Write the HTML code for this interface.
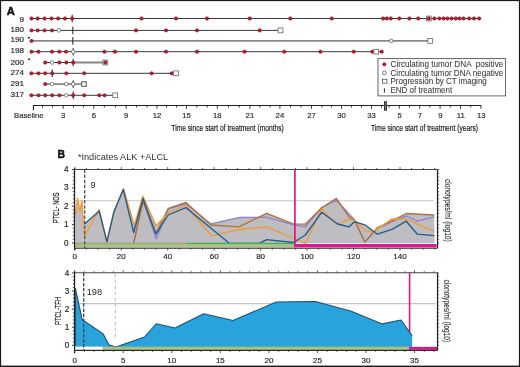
<!DOCTYPE html><html><head><meta charset="utf-8"><style>html,body{margin:0;padding:0;background:#fff;}svg{display:block;will-change:transform;}text{font-family:"Liberation Sans", sans-serif;}</style></head><body>
<svg width="520" height="367" viewBox="0 0 520 367">
<defs><linearGradient id="gband" x1="0" y1="0" x2="0" y2="1"><stop offset="0" stop-color="#9db97f"/><stop offset="1" stop-color="#b1cb92"/></linearGradient><linearGradient id="gband2" x1="0" y1="0" x2="0" y2="1"><stop offset="0" stop-color="#a3b87c"/><stop offset="1" stop-color="#b2ca90"/></linearGradient></defs>
<rect x="0" y="0" width="520" height="367" fill="#fff"/>
<text x="6.7" y="14.8" font-size="11.2" font-weight="bold" fill="#111" stroke="#111" stroke-width="0.5">A</text>
<text x="24" y="21.60" font-size="8.1" fill="#333" stroke="#333" stroke-width="0.22" text-anchor="end">9</text>
<line x1="31.5" y1="18.5" x2="479.2" y2="18.5" stroke="#3a3a3a" stroke-width="1"/>
<line x1="72.2" y1="14.7" x2="72.2" y2="22.3" stroke="#222" stroke-width="1"/>
<circle cx="31.5" cy="18.5" r="1.65" fill="#d8142a" stroke="#5a0a12" stroke-width="0.55"/>
<circle cx="37.7" cy="18.5" r="1.65" fill="#d8142a" stroke="#5a0a12" stroke-width="0.55"/>
<circle cx="44.6" cy="18.5" r="1.65" fill="#d8142a" stroke="#5a0a12" stroke-width="0.55"/>
<circle cx="51.5" cy="18.5" r="1.65" fill="#d8142a" stroke="#5a0a12" stroke-width="0.55"/>
<circle cx="58.1" cy="18.5" r="1.65" fill="#d8142a" stroke="#5a0a12" stroke-width="0.55"/>
<circle cx="65" cy="18.5" r="1.65" fill="#d8142a" stroke="#5a0a12" stroke-width="0.55"/>
<circle cx="72.2" cy="18.5" r="1.65" fill="#d8142a" stroke="#5a0a12" stroke-width="0.55"/>
<circle cx="141.5" cy="18.5" r="1.65" fill="#d8142a" stroke="#5a0a12" stroke-width="0.55"/>
<circle cx="176" cy="18.5" r="1.65" fill="#d8142a" stroke="#5a0a12" stroke-width="0.55"/>
<circle cx="207" cy="18.5" r="1.65" fill="#d8142a" stroke="#5a0a12" stroke-width="0.55"/>
<circle cx="249.75" cy="18.5" r="1.65" fill="#d8142a" stroke="#5a0a12" stroke-width="0.55"/>
<circle cx="290.25" cy="18.5" r="1.65" fill="#d8142a" stroke="#5a0a12" stroke-width="0.55"/>
<circle cx="331.75" cy="18.5" r="1.65" fill="#d8142a" stroke="#5a0a12" stroke-width="0.55"/>
<circle cx="383.1" cy="18.5" r="1.65" fill="#d8142a" stroke="#5a0a12" stroke-width="0.55"/>
<circle cx="386.8" cy="18.5" r="1.65" fill="#d8142a" stroke="#5a0a12" stroke-width="0.55"/>
<circle cx="390.9" cy="18.5" r="1.65" fill="#d8142a" stroke="#5a0a12" stroke-width="0.55"/>
<circle cx="399.3" cy="18.5" r="1.65" fill="#d8142a" stroke="#5a0a12" stroke-width="0.55"/>
<circle cx="409.4" cy="18.5" r="1.65" fill="#d8142a" stroke="#5a0a12" stroke-width="0.55"/>
<circle cx="418.2" cy="18.5" r="1.65" fill="#d8142a" stroke="#5a0a12" stroke-width="0.55"/>
<circle cx="434.3" cy="18.5" r="1.65" fill="#d8142a" stroke="#5a0a12" stroke-width="0.55"/>
<circle cx="439.4" cy="18.5" r="1.65" fill="#d8142a" stroke="#5a0a12" stroke-width="0.55"/>
<circle cx="443.7" cy="18.5" r="1.65" fill="#d8142a" stroke="#5a0a12" stroke-width="0.55"/>
<circle cx="447.5" cy="18.5" r="1.65" fill="#d8142a" stroke="#5a0a12" stroke-width="0.55"/>
<circle cx="451.5" cy="18.5" r="1.65" fill="#d8142a" stroke="#5a0a12" stroke-width="0.55"/>
<circle cx="455.8" cy="18.5" r="1.65" fill="#d8142a" stroke="#5a0a12" stroke-width="0.55"/>
<circle cx="459.6" cy="18.5" r="1.65" fill="#d8142a" stroke="#5a0a12" stroke-width="0.55"/>
<circle cx="463.5" cy="18.5" r="1.65" fill="#d8142a" stroke="#5a0a12" stroke-width="0.55"/>
<circle cx="469.2" cy="18.5" r="1.65" fill="#d8142a" stroke="#5a0a12" stroke-width="0.55"/>
<circle cx="474" cy="18.5" r="1.65" fill="#d8142a" stroke="#5a0a12" stroke-width="0.55"/>
<circle cx="479.2" cy="18.5" r="1.65" fill="#d8142a" stroke="#5a0a12" stroke-width="0.55"/>
<rect x="426.40000000000003" y="16.1" width="4.8" height="4.8" fill="#fff" stroke="#666" stroke-width="0.8"/><circle cx="428.8" cy="18.5" r="1.65" fill="#d8142a" stroke="#5a0a12" stroke-width="0.55"/>
<text x="24" y="31.55" font-size="8.1" fill="#333" stroke="#333" stroke-width="0.22" text-anchor="end">180</text>
<line x1="31.5" y1="30.4" x2="280.5" y2="30.4" stroke="#3a3a3a" stroke-width="1"/>
<line x1="72.8" y1="26.599999999999998" x2="72.8" y2="34.199999999999996" stroke="#222" stroke-width="1"/>
<circle cx="58.8" cy="30.4" r="1.8" fill="#fff" stroke="#555" stroke-width="0.7"/>
<circle cx="31.5" cy="30.4" r="1.65" fill="#d8142a" stroke="#5a0a12" stroke-width="0.55"/>
<circle cx="37.7" cy="30.4" r="1.65" fill="#d8142a" stroke="#5a0a12" stroke-width="0.55"/>
<circle cx="44.6" cy="30.4" r="1.65" fill="#d8142a" stroke="#5a0a12" stroke-width="0.55"/>
<circle cx="52" cy="30.4" r="1.65" fill="#d8142a" stroke="#5a0a12" stroke-width="0.55"/>
<circle cx="136" cy="30.4" r="1.65" fill="#d8142a" stroke="#5a0a12" stroke-width="0.55"/>
<circle cx="166" cy="30.4" r="1.65" fill="#d8142a" stroke="#5a0a12" stroke-width="0.55"/>
<circle cx="197" cy="30.4" r="1.65" fill="#d8142a" stroke="#5a0a12" stroke-width="0.55"/>
<circle cx="259.75" cy="30.4" r="1.65" fill="#d8142a" stroke="#5a0a12" stroke-width="0.55"/>
<rect x="278.1" y="28.0" width="4.8" height="4.8" fill="#fff" stroke="#666" stroke-width="0.8"/>
<text x="24" y="42.35" font-size="8.1" fill="#333" stroke="#333" stroke-width="0.22" text-anchor="end">190</text>
<circle cx="28.8" cy="37.8" r="1.05" fill="#2a2a2a"/>
<line x1="31.5" y1="40.9" x2="430.2" y2="40.9" stroke="#888" stroke-width="1.8"/>
<line x1="72.8" y1="37.1" x2="72.8" y2="44.699999999999996" stroke="#222" stroke-width="1"/>
<circle cx="391.25" cy="40.9" r="1.8" fill="#fff" stroke="#555" stroke-width="0.7"/>
<circle cx="31.5" cy="40.9" r="1.65" fill="#d8142a" stroke="#5a0a12" stroke-width="0.55"/>
<rect x="427.8" y="38.5" width="4.8" height="4.8" fill="#fff" stroke="#666" stroke-width="0.8"/>
<text x="24" y="53.45" font-size="8.1" fill="#333" stroke="#333" stroke-width="0.22" text-anchor="end">198</text>
<line x1="31.5" y1="51.7" x2="381.75" y2="51.7" stroke="#3a3a3a" stroke-width="1"/>
<line x1="73.2" y1="47.900000000000006" x2="73.2" y2="55.5" stroke="#222" stroke-width="1"/>
<circle cx="73.2" cy="51.7" r="1.8" fill="#fff" stroke="#555" stroke-width="0.7"/>
<circle cx="31.5" cy="51.7" r="1.65" fill="#d8142a" stroke="#5a0a12" stroke-width="0.55"/>
<circle cx="38.5" cy="51.7" r="1.65" fill="#d8142a" stroke="#5a0a12" stroke-width="0.55"/>
<circle cx="52" cy="51.7" r="1.65" fill="#d8142a" stroke="#5a0a12" stroke-width="0.55"/>
<circle cx="59.4" cy="51.7" r="1.65" fill="#d8142a" stroke="#5a0a12" stroke-width="0.55"/>
<circle cx="66" cy="51.7" r="1.65" fill="#d8142a" stroke="#5a0a12" stroke-width="0.55"/>
<circle cx="104.5" cy="51.7" r="1.65" fill="#d8142a" stroke="#5a0a12" stroke-width="0.55"/>
<circle cx="115" cy="51.7" r="1.65" fill="#d8142a" stroke="#5a0a12" stroke-width="0.55"/>
<circle cx="136" cy="51.7" r="1.65" fill="#d8142a" stroke="#5a0a12" stroke-width="0.55"/>
<circle cx="166" cy="51.7" r="1.65" fill="#d8142a" stroke="#5a0a12" stroke-width="0.55"/>
<circle cx="197" cy="51.7" r="1.65" fill="#d8142a" stroke="#5a0a12" stroke-width="0.55"/>
<circle cx="244.5" cy="51.7" r="1.65" fill="#d8142a" stroke="#5a0a12" stroke-width="0.55"/>
<circle cx="284.25" cy="51.7" r="1.65" fill="#d8142a" stroke="#5a0a12" stroke-width="0.55"/>
<circle cx="320.5" cy="51.7" r="1.65" fill="#d8142a" stroke="#5a0a12" stroke-width="0.55"/>
<circle cx="353.75" cy="51.7" r="1.65" fill="#d8142a" stroke="#5a0a12" stroke-width="0.55"/>
<circle cx="372.25" cy="51.7" r="1.65" fill="#d8142a" stroke="#5a0a12" stroke-width="0.55"/>
<circle cx="381.75" cy="51.7" r="1.65" fill="#d8142a" stroke="#5a0a12" stroke-width="0.55"/>
<rect x="373.85" y="49.300000000000004" width="4.8" height="4.8" fill="#fff" stroke="#666" stroke-width="0.8"/>
<text x="24" y="65.00" font-size="8.1" fill="#333" stroke="#333" stroke-width="0.22" text-anchor="end">200</text>
<circle cx="29.1" cy="59.3" r="1.05" fill="#2a2a2a"/>
<line x1="45.2" y1="62.5" x2="73.2" y2="62.5" stroke="#3a3a3a" stroke-width="1"/>
<line x1="73.2" y1="62.5" x2="105.3" y2="62.5" stroke="#888" stroke-width="1.8"/>
<line x1="73.2" y1="58.7" x2="73.2" y2="66.3" stroke="#222" stroke-width="1"/>
<circle cx="52.2" cy="62.5" r="1.8" fill="#fff" stroke="#555" stroke-width="0.7"/>
<circle cx="45.2" cy="62.5" r="1.65" fill="#d8142a" stroke="#5a0a12" stroke-width="0.55"/>
<circle cx="59.4" cy="62.5" r="1.65" fill="#d8142a" stroke="#5a0a12" stroke-width="0.55"/>
<circle cx="66.3" cy="62.5" r="1.65" fill="#d8142a" stroke="#5a0a12" stroke-width="0.55"/>
<circle cx="73.2" cy="62.5" r="1.65" fill="#d8142a" stroke="#5a0a12" stroke-width="0.55"/>
<rect x="102.89999999999999" y="60.1" width="4.8" height="4.8" fill="#fff" stroke="#666" stroke-width="0.8"/><circle cx="105.3" cy="62.5" r="1.65" fill="#d8142a" stroke="#5a0a12" stroke-width="0.55"/>
<text x="24" y="75.35" font-size="8.1" fill="#333" stroke="#333" stroke-width="0.22" text-anchor="end">274</text>
<line x1="31.4" y1="73.3" x2="176" y2="73.3" stroke="#3a3a3a" stroke-width="1"/>
<line x1="52.2" y1="69.5" x2="52.2" y2="77.1" stroke="#222" stroke-width="1"/>
<circle cx="31.4" cy="73.3" r="1.65" fill="#d8142a" stroke="#5a0a12" stroke-width="0.55"/>
<circle cx="38.5" cy="73.3" r="1.65" fill="#d8142a" stroke="#5a0a12" stroke-width="0.55"/>
<circle cx="45.2" cy="73.3" r="1.65" fill="#d8142a" stroke="#5a0a12" stroke-width="0.55"/>
<circle cx="52.2" cy="73.3" r="1.65" fill="#d8142a" stroke="#5a0a12" stroke-width="0.55"/>
<circle cx="66.3" cy="73.3" r="1.65" fill="#d8142a" stroke="#5a0a12" stroke-width="0.55"/>
<circle cx="84.2" cy="73.3" r="1.65" fill="#d8142a" stroke="#5a0a12" stroke-width="0.55"/>
<circle cx="151.6" cy="73.3" r="1.65" fill="#d8142a" stroke="#5a0a12" stroke-width="0.55"/>
<circle cx="171.7" cy="73.3" r="1.65" fill="#d8142a" stroke="#5a0a12" stroke-width="0.55"/>
<rect x="173.6" y="70.89999999999999" width="4.8" height="4.8" fill="#fff" stroke="#666" stroke-width="0.8"/>
<text x="24" y="85.95" font-size="8.1" fill="#333" stroke="#333" stroke-width="0.22" text-anchor="end">291</text>
<line x1="45.2" y1="84.1" x2="84" y2="84.1" stroke="#888" stroke-width="1.8"/>
<line x1="73.2" y1="80.3" x2="73.2" y2="87.89999999999999" stroke="#222" stroke-width="1"/>
<circle cx="52.2" cy="84.1" r="1.8" fill="#fff" stroke="#555" stroke-width="0.7"/>
<circle cx="66.3" cy="84.1" r="1.8" fill="#fff" stroke="#555" stroke-width="0.7"/>
<circle cx="73.2" cy="84.1" r="1.8" fill="#fff" stroke="#555" stroke-width="0.7"/>
<circle cx="45.2" cy="84.1" r="1.65" fill="#d8142a" stroke="#5a0a12" stroke-width="0.55"/>
<rect x="81.7" y="81.8" width="4.6" height="4.6" fill="#fff" stroke="#777" stroke-width="1.3"/>
<text x="24" y="97.35" font-size="8.1" fill="#333" stroke="#333" stroke-width="0.22" text-anchor="end">317</text>
<line x1="31.4" y1="95.3" x2="115.2" y2="95.3" stroke="#3a3a3a" stroke-width="1"/>
<line x1="73.2" y1="91.5" x2="73.2" y2="99.1" stroke="#222" stroke-width="1"/>
<circle cx="66.3" cy="95.3" r="1.8" fill="#fff" stroke="#555" stroke-width="0.7"/>
<circle cx="31.4" cy="95.3" r="1.65" fill="#d8142a" stroke="#5a0a12" stroke-width="0.55"/>
<circle cx="38.5" cy="95.3" r="1.65" fill="#d8142a" stroke="#5a0a12" stroke-width="0.55"/>
<circle cx="45.2" cy="95.3" r="1.65" fill="#d8142a" stroke="#5a0a12" stroke-width="0.55"/>
<circle cx="52.2" cy="95.3" r="1.65" fill="#d8142a" stroke="#5a0a12" stroke-width="0.55"/>
<circle cx="59.4" cy="95.3" r="1.65" fill="#d8142a" stroke="#5a0a12" stroke-width="0.55"/>
<circle cx="73.2" cy="95.3" r="1.65" fill="#d8142a" stroke="#5a0a12" stroke-width="0.55"/>
<circle cx="84.2" cy="95.3" r="1.65" fill="#d8142a" stroke="#5a0a12" stroke-width="0.55"/>
<circle cx="99.3" cy="95.3" r="1.65" fill="#d8142a" stroke="#5a0a12" stroke-width="0.55"/>
<circle cx="104.6" cy="95.3" r="1.65" fill="#d8142a" stroke="#5a0a12" stroke-width="0.55"/>
<rect x="112.8" y="92.89999999999999" width="4.8" height="4.8" fill="#fff" stroke="#666" stroke-width="0.8"/>
<line x1="33.4" y1="105.5" x2="481.3" y2="105.5" stroke="#222" stroke-width="1"/>
<line x1="33.4" y1="105.0" x2="33.4" y2="110.2" stroke="#222" stroke-width="1.1"/>
<line x1="42.5" y1="105.5" x2="42.5" y2="107.5" stroke="#222" stroke-width="0.9"/>
<line x1="52.5" y1="105.5" x2="52.5" y2="107.5" stroke="#222" stroke-width="0.9"/>
<line x1="63.2" y1="105.5" x2="63.2" y2="108.7" stroke="#222" stroke-width="0.9"/>
<line x1="73.5" y1="105.5" x2="73.5" y2="107.5" stroke="#222" stroke-width="0.9"/>
<line x1="83.4" y1="105.5" x2="83.4" y2="107.5" stroke="#222" stroke-width="0.9"/>
<line x1="93.8" y1="105.5" x2="93.8" y2="108.7" stroke="#222" stroke-width="0.9"/>
<line x1="104.3" y1="105.5" x2="104.3" y2="107.5" stroke="#222" stroke-width="0.9"/>
<line x1="115.4" y1="105.5" x2="115.4" y2="107.5" stroke="#222" stroke-width="0.9"/>
<line x1="126.2" y1="105.5" x2="126.2" y2="108.7" stroke="#222" stroke-width="0.9"/>
<line x1="136.6" y1="105.5" x2="136.6" y2="107.5" stroke="#222" stroke-width="0.9"/>
<line x1="146.9" y1="105.5" x2="146.9" y2="107.5" stroke="#222" stroke-width="0.9"/>
<line x1="157.0" y1="105.5" x2="157.0" y2="108.7" stroke="#222" stroke-width="0.9"/>
<line x1="166.5" y1="105.5" x2="166.5" y2="107.5" stroke="#222" stroke-width="0.9"/>
<line x1="176.5" y1="105.5" x2="176.5" y2="107.5" stroke="#222" stroke-width="0.9"/>
<line x1="186.5" y1="105.5" x2="186.5" y2="108.7" stroke="#222" stroke-width="0.9"/>
<line x1="196.8" y1="105.5" x2="196.8" y2="107.5" stroke="#222" stroke-width="0.9"/>
<line x1="207.2" y1="105.5" x2="207.2" y2="107.5" stroke="#222" stroke-width="0.9"/>
<line x1="217.3" y1="105.5" x2="217.3" y2="108.7" stroke="#222" stroke-width="0.9"/>
<line x1="228.5" y1="105.5" x2="228.5" y2="107.5" stroke="#222" stroke-width="0.9"/>
<line x1="239.3" y1="105.5" x2="239.3" y2="107.5" stroke="#222" stroke-width="0.9"/>
<line x1="249.9" y1="105.5" x2="249.9" y2="108.7" stroke="#222" stroke-width="0.9"/>
<line x1="259.8" y1="105.5" x2="259.8" y2="107.5" stroke="#222" stroke-width="0.9"/>
<line x1="270" y1="105.5" x2="270" y2="107.5" stroke="#222" stroke-width="0.9"/>
<line x1="279.9" y1="105.5" x2="279.9" y2="108.7" stroke="#222" stroke-width="0.9"/>
<line x1="290.6" y1="105.5" x2="290.6" y2="107.5" stroke="#222" stroke-width="0.9"/>
<line x1="301" y1="105.5" x2="301" y2="107.5" stroke="#222" stroke-width="0.9"/>
<line x1="311.5" y1="105.5" x2="311.5" y2="108.7" stroke="#222" stroke-width="0.9"/>
<line x1="321.9" y1="105.5" x2="321.9" y2="107.5" stroke="#222" stroke-width="0.9"/>
<line x1="331.4" y1="105.5" x2="331.4" y2="107.5" stroke="#222" stroke-width="0.9"/>
<line x1="341.5" y1="105.5" x2="341.5" y2="108.7" stroke="#222" stroke-width="0.9"/>
<line x1="351.5" y1="105.5" x2="351.5" y2="107.5" stroke="#222" stroke-width="0.9"/>
<line x1="361.5" y1="105.5" x2="361.5" y2="107.5" stroke="#222" stroke-width="0.9"/>
<line x1="371.5" y1="105.5" x2="371.5" y2="108.7" stroke="#222" stroke-width="0.9"/>
<line x1="381.5" y1="105.5" x2="381.5" y2="107.5" stroke="#222" stroke-width="0.9"/>
<line x1="389.1" y1="105.5" x2="389.1" y2="107.5" stroke="#222" stroke-width="0.9"/>
<line x1="399.3" y1="105.5" x2="399.3" y2="108.7" stroke="#222" stroke-width="0.9"/>
<line x1="409.5" y1="105.5" x2="409.5" y2="107.5" stroke="#222" stroke-width="0.9"/>
<line x1="419.7" y1="105.5" x2="419.7" y2="108.7" stroke="#222" stroke-width="0.9"/>
<line x1="429.90000000000003" y1="105.5" x2="429.90000000000003" y2="107.5" stroke="#222" stroke-width="0.9"/>
<line x1="440.1" y1="105.5" x2="440.1" y2="108.7" stroke="#222" stroke-width="0.9"/>
<line x1="450.3" y1="105.5" x2="450.3" y2="107.5" stroke="#222" stroke-width="0.9"/>
<line x1="460.5" y1="105.5" x2="460.5" y2="108.7" stroke="#222" stroke-width="0.9"/>
<line x1="470.7" y1="105.5" x2="470.7" y2="107.5" stroke="#222" stroke-width="0.9"/>
<line x1="480.9" y1="105.5" x2="480.9" y2="108.7" stroke="#222" stroke-width="0.9"/>
<rect x="384.1" y="101.1" width="2.7" height="9.6" fill="#999"/>
<rect x="384.1" y="101.1" width="1.1" height="9.6" fill="#2a2a2a"/>
<rect x="385.8" y="101.1" width="1.0" height="9.6" fill="#2a2a2a"/>
<text x="28.8" y="118.1" font-size="7.7" fill="#333" stroke="#333" stroke-width="0.2" text-anchor="middle">Baseline</text>
<text x="63.2" y="118.1" font-size="7.7" fill="#333" stroke="#333" stroke-width="0.2" text-anchor="middle">3</text>
<text x="93.8" y="118.1" font-size="7.7" fill="#333" stroke="#333" stroke-width="0.2" text-anchor="middle">6</text>
<text x="126.2" y="118.1" font-size="7.7" fill="#333" stroke="#333" stroke-width="0.2" text-anchor="middle">9</text>
<text x="157.0" y="118.1" font-size="7.7" fill="#333" stroke="#333" stroke-width="0.2" text-anchor="middle">12</text>
<text x="186.5" y="118.1" font-size="7.7" fill="#333" stroke="#333" stroke-width="0.2" text-anchor="middle">15</text>
<text x="217.3" y="118.1" font-size="7.7" fill="#333" stroke="#333" stroke-width="0.2" text-anchor="middle">18</text>
<text x="249.9" y="118.1" font-size="7.7" fill="#333" stroke="#333" stroke-width="0.2" text-anchor="middle">21</text>
<text x="279.9" y="118.1" font-size="7.7" fill="#333" stroke="#333" stroke-width="0.2" text-anchor="middle">24</text>
<text x="311.5" y="118.1" font-size="7.7" fill="#333" stroke="#333" stroke-width="0.2" text-anchor="middle">27</text>
<text x="341.5" y="118.1" font-size="7.7" fill="#333" stroke="#333" stroke-width="0.2" text-anchor="middle">30</text>
<text x="371.5" y="118.1" font-size="7.7" fill="#333" stroke="#333" stroke-width="0.2" text-anchor="middle">33</text>
<text x="399.6" y="118.1" font-size="7.7" fill="#333" stroke="#333" stroke-width="0.2" text-anchor="middle">5</text>
<text x="420.0" y="118.1" font-size="7.7" fill="#333" stroke="#333" stroke-width="0.2" text-anchor="middle">7</text>
<text x="440.40000000000003" y="118.1" font-size="7.7" fill="#333" stroke="#333" stroke-width="0.2" text-anchor="middle">9</text>
<text x="460.8" y="118.1" font-size="7.7" fill="#333" stroke="#333" stroke-width="0.2" text-anchor="middle">11</text>
<text x="481.20000000000005" y="118.1" font-size="7.7" fill="#333" stroke="#333" stroke-width="0.2" text-anchor="middle">13</text>
<text x="171.3" y="130.9" font-size="9.2" fill="#222" stroke="#222" stroke-width="0.2" textLength="112.5" lengthAdjust="spacingAndGlyphs">Time since start of treatment (months)</text>
<text x="371" y="130.9" font-size="9.2" fill="#222" stroke="#222" stroke-width="0.2" textLength="107" lengthAdjust="spacingAndGlyphs">Time since start of treatment (years)</text>
<rect x="378" y="58.6" width="127.6" height="37.3" fill="#fff" stroke="#555" stroke-width="0.9"/>
<circle cx="384.3" cy="64.3" r="1.65" fill="#d8142a" stroke="#5a0a12" stroke-width="0.55"/>
<circle cx="384.4" cy="72.8" r="1.9" fill="#fff" stroke="#555" stroke-width="0.8"/>
<rect x="382.4" y="79.3" width="4.6" height="3.9" fill="#fff" stroke="#555" stroke-width="0.8"/>
<line x1="384.4" y1="88.3" x2="384.4" y2="92.6" stroke="#222" stroke-width="1"/>
<text x="390.5" y="67.00" font-size="8.2" fill="#383838" stroke="#383838" stroke-width="0.06" xml:space="preserve" textLength="112.8" lengthAdjust="spacingAndGlyphs">Circulating tumor DNA  positive</text>
<text x="390.5" y="75.67" font-size="8.2" fill="#383838" stroke="#383838" stroke-width="0.06" xml:space="preserve" textLength="112.8" lengthAdjust="spacingAndGlyphs">Circulating tumor DNA negative</text>
<text x="390.5" y="84.34" font-size="8.2" fill="#383838" stroke="#383838" stroke-width="0.06" xml:space="preserve" textLength="96.3" lengthAdjust="spacingAndGlyphs">Progression by CT imaging</text>
<text x="390.5" y="93.01" font-size="8.2" fill="#383838" stroke="#383838" stroke-width="0.06" xml:space="preserve" textLength="61.7" lengthAdjust="spacingAndGlyphs">END of treatment</text>
<text x="57.4" y="158" font-size="10.4" font-weight="bold" fill="#111" stroke="#111" stroke-width="0.45">B</text>
<text x="77.9" y="159.7" font-size="8.2" fill="#333" textLength="90.2" lengthAdjust="spacingAndGlyphs">*Indicates ALK +ALCL</text>
<line x1="75" y1="200.8" x2="433.5" y2="200.8" stroke="#c4c4c4" stroke-width="1.1"/>
<polygon points="75.4,243.0 75.4,214.1 77.6,198.4 79.9,211.1 81.9,200.4 84.5,236.3 99.2,209.5 106.9,241.5 113.9,211.5 123.5,188.6 134.3,225.3 142.9,196.1 156.1,225.8 168.3,213 186,205.5 211.4,235.8 239,229.5 266.7,226.8 293.7,238.5 305.4,243.5 321.8,208.9 336.5,224.1 349.8,219.1 355.2,221 365,230.9 373.4,232 391.9,218.8 406.3,219.2 434.2,231.3 434.2,243.0" fill="#bebdc2"/>
<polygon points="84.5,243.0 84.5,224.1 99.2,211.1 106.9,241.9 113.9,212 123.3,189.5 133.7,232.5 143,198.5 155.9,234.2 168.2,215 186,207.7 229.3,243.3 259.2,243.3 266.7,239.7 293.5,242.5 305.4,235 321.8,212.2 337.6,224 349.1,226.8 354.4,221.7 364.8,224.8 377.5,234.2 391.9,229.4 406.3,221.2 417.3,234.2 434.2,235.6 434.2,243.0" fill="#bebdc2"/>
<polygon points="133.7,243.0 133.7,243 143,201.3 156.1,233.2 168.3,208.4 186,202.5 210.7,225 239,226.8 266.7,213.3 293,223.8 305.4,224.1 321.8,207.8 336.4,198.4 349.1,217.2 354.4,220.2 364.8,242.3 377.5,227.5 391.9,220.8 406.3,213.5 434.2,215 434.2,243.0" fill="#bebdc2"/>
<polygon points="133.7,243.0 133.7,243 143,200.5 156.1,238.9 168.3,209.2 186,203.7 210.7,223.8 239.7,217.5 266,217.2 293,224.7 305.4,226.9 321.8,207.3 336.4,200.2 354.4,219.6 364.8,241.8 377.5,228.6 391.9,221.7 406.3,216 417.3,221.2 434.2,216.9 434.2,243.0" fill="#bebdc2"/>
<rect x="75" y="243" width="220" height="4.7" fill="url(#gband)"/>
<polyline points="133.7,243 143,200.5 156.1,238.9 168.3,209.2 186,203.7 210.7,223.8 239.7,217.5 266,217.2 293,224.7 305.4,226.9 321.8,207.3 336.4,200.2 354.4,219.6 364.8,241.8 377.5,228.6 391.9,221.7 406.3,216 417.3,221.2 434.2,216.9" fill="none" stroke="#8d85c8" stroke-width="1.35" stroke-linejoin="round"/>
<polyline points="133.7,243 143,201.3 156.1,233.2 168.3,208.4 186,202.5 210.7,225 239,226.8 266.7,213.3 293,223.8 305.4,224.1 321.8,207.8 336.4,198.4 349.1,217.2 354.4,220.2 364.8,242.3 377.5,227.5 391.9,220.8 406.3,213.5 434.2,215" fill="none" stroke="#b3743a" stroke-width="1.35" stroke-linejoin="round"/>
<polyline points="75.4,214.1 77.6,198.4 79.9,211.1 81.9,200.4 84.5,236.3 99.2,209.5 106.9,241.5 113.9,211.5 123.5,188.6 134.3,225.3 142.9,196.1 156.1,225.8 168.3,213 186,205.5 211.4,235.8 239,229.5 266.7,226.8 293.7,238.5 305.4,243.5 321.8,208.9 336.5,224.1 349.8,219.1 355.2,221 365,230.9 373.4,232 391.9,218.8 406.3,219.2 434.2,231.3" fill="none" stroke="#f39a32" stroke-width="1.35" stroke-linejoin="round"/>
<polyline points="84.5,224.1 99.2,211.1 106.9,241.9 113.9,212 123.3,189.5 133.7,232.5 143,198.5 155.9,234.2 168.2,215 186,207.7 229.3,243.3 259.2,243.3 266.7,239.7 293.5,242.5 305.4,235 321.8,212.2 337.6,224 349.1,226.8 354.4,221.7 364.8,224.8 377.5,234.2 391.9,229.4 406.3,221.2 417.3,234.2 434.2,235.6" fill="none" stroke="#1d5d8f" stroke-width="1.35" stroke-linejoin="round"/>
<line x1="75" y1="243.2" x2="186" y2="243.2" stroke="#a8925c" stroke-width="0.8" opacity="0.8"/>
<line x1="186" y1="243.4" x2="294.5" y2="243.4" stroke="#45b24c" stroke-width="1.4"/>
<line x1="84.7" y1="169.5" x2="84.7" y2="248.2" stroke="#555" stroke-width="1.3" stroke-dasharray="3.5,1.6"/>
<line x1="294.9" y1="169.5" x2="294.9" y2="246.5" stroke="#e2138c" stroke-width="1.7"/>
<rect x="294" y="244" width="142.5" height="3.4" fill="#e2138c"/>
<line x1="74.4" y1="169.5" x2="437.5" y2="169.5" stroke="#444" stroke-width="1.1"/>
<line x1="74.55000000000001" y1="168.0" x2="74.55000000000001" y2="250.2" stroke="#222" stroke-width="1.25"/>
<line x1="437.5" y1="169.5" x2="437.5" y2="248.2" stroke="#222" stroke-width="1.2"/>
<line x1="74.4" y1="248.2" x2="437.5" y2="248.2" stroke="#2a2a2a" stroke-width="1.1"/>
<line x1="72.0" y1="243.00" x2="74.4" y2="243.00" stroke="#2a2a2a" stroke-width="0.9"/>
<line x1="437.5" y1="243.00" x2="439.0" y2="243.00" stroke="#333" stroke-width="0.8"/>
<line x1="72.9" y1="239.32" x2="74.4" y2="239.32" stroke="#2a2a2a" stroke-width="0.9"/>
<line x1="437.5" y1="239.32" x2="439.0" y2="239.32" stroke="#333" stroke-width="0.8"/>
<line x1="72.9" y1="235.65" x2="74.4" y2="235.65" stroke="#2a2a2a" stroke-width="0.9"/>
<line x1="437.5" y1="235.65" x2="439.0" y2="235.65" stroke="#333" stroke-width="0.8"/>
<line x1="72.9" y1="231.97" x2="74.4" y2="231.97" stroke="#2a2a2a" stroke-width="0.9"/>
<line x1="437.5" y1="231.97" x2="439.0" y2="231.97" stroke="#333" stroke-width="0.8"/>
<line x1="72.9" y1="228.30" x2="74.4" y2="228.30" stroke="#2a2a2a" stroke-width="0.9"/>
<line x1="437.5" y1="228.30" x2="439.0" y2="228.30" stroke="#333" stroke-width="0.8"/>
<line x1="72.0" y1="224.62" x2="74.4" y2="224.62" stroke="#2a2a2a" stroke-width="0.9"/>
<line x1="437.5" y1="224.62" x2="439.0" y2="224.62" stroke="#333" stroke-width="0.8"/>
<line x1="72.9" y1="220.95" x2="74.4" y2="220.95" stroke="#2a2a2a" stroke-width="0.9"/>
<line x1="437.5" y1="220.95" x2="439.0" y2="220.95" stroke="#333" stroke-width="0.8"/>
<line x1="72.9" y1="217.28" x2="74.4" y2="217.28" stroke="#2a2a2a" stroke-width="0.9"/>
<line x1="437.5" y1="217.28" x2="439.0" y2="217.28" stroke="#333" stroke-width="0.8"/>
<line x1="72.9" y1="213.60" x2="74.4" y2="213.60" stroke="#2a2a2a" stroke-width="0.9"/>
<line x1="437.5" y1="213.60" x2="439.0" y2="213.60" stroke="#333" stroke-width="0.8"/>
<line x1="72.9" y1="209.93" x2="74.4" y2="209.93" stroke="#2a2a2a" stroke-width="0.9"/>
<line x1="437.5" y1="209.93" x2="439.0" y2="209.93" stroke="#333" stroke-width="0.8"/>
<line x1="72.0" y1="206.25" x2="74.4" y2="206.25" stroke="#2a2a2a" stroke-width="0.9"/>
<line x1="437.5" y1="206.25" x2="439.0" y2="206.25" stroke="#333" stroke-width="0.8"/>
<line x1="72.9" y1="202.57" x2="74.4" y2="202.57" stroke="#2a2a2a" stroke-width="0.9"/>
<line x1="437.5" y1="202.57" x2="439.0" y2="202.57" stroke="#333" stroke-width="0.8"/>
<line x1="72.9" y1="198.90" x2="74.4" y2="198.90" stroke="#2a2a2a" stroke-width="0.9"/>
<line x1="437.5" y1="198.90" x2="439.0" y2="198.90" stroke="#333" stroke-width="0.8"/>
<line x1="72.9" y1="195.22" x2="74.4" y2="195.22" stroke="#2a2a2a" stroke-width="0.9"/>
<line x1="437.5" y1="195.22" x2="439.0" y2="195.22" stroke="#333" stroke-width="0.8"/>
<line x1="72.9" y1="191.55" x2="74.4" y2="191.55" stroke="#2a2a2a" stroke-width="0.9"/>
<line x1="437.5" y1="191.55" x2="439.0" y2="191.55" stroke="#333" stroke-width="0.8"/>
<line x1="72.0" y1="187.88" x2="74.4" y2="187.88" stroke="#2a2a2a" stroke-width="0.9"/>
<line x1="437.5" y1="187.88" x2="439.0" y2="187.88" stroke="#333" stroke-width="0.8"/>
<line x1="72.9" y1="184.20" x2="74.4" y2="184.20" stroke="#2a2a2a" stroke-width="0.9"/>
<line x1="437.5" y1="184.20" x2="439.0" y2="184.20" stroke="#333" stroke-width="0.8"/>
<line x1="72.9" y1="180.53" x2="74.4" y2="180.53" stroke="#2a2a2a" stroke-width="0.9"/>
<line x1="437.5" y1="180.53" x2="439.0" y2="180.53" stroke="#333" stroke-width="0.8"/>
<line x1="72.9" y1="176.85" x2="74.4" y2="176.85" stroke="#2a2a2a" stroke-width="0.9"/>
<line x1="437.5" y1="176.85" x2="439.0" y2="176.85" stroke="#333" stroke-width="0.8"/>
<line x1="72.9" y1="173.18" x2="74.4" y2="173.18" stroke="#2a2a2a" stroke-width="0.9"/>
<line x1="437.5" y1="173.18" x2="439.0" y2="173.18" stroke="#333" stroke-width="0.8"/>
<line x1="72.0" y1="169.50" x2="74.4" y2="169.50" stroke="#2a2a2a" stroke-width="0.9"/>
<line x1="437.5" y1="169.50" x2="439.0" y2="169.50" stroke="#333" stroke-width="0.8"/>
<text x="66.4" y="245.60" font-size="8.2" fill="#222" stroke="#222" stroke-width="0.15" text-anchor="middle">0</text>
<text x="66.4" y="227.22" font-size="8.2" fill="#222" stroke="#222" stroke-width="0.15" text-anchor="middle">1</text>
<text x="66.4" y="208.85" font-size="8.2" fill="#222" stroke="#222" stroke-width="0.15" text-anchor="middle">2</text>
<text x="66.4" y="190.47" font-size="8.2" fill="#222" stroke="#222" stroke-width="0.15" text-anchor="middle">3</text>
<text x="66.4" y="172.10" font-size="8.2" fill="#222" stroke="#222" stroke-width="0.15" text-anchor="middle">4</text>
<line x1="74.80" y1="248.2" x2="74.80" y2="250.6" stroke="#333" stroke-width="0.8"/>
<line x1="74.80" y1="169.5" x2="74.80" y2="167.1" stroke="#333" stroke-width="0.8"/>
<line x1="86.41" y1="248.2" x2="86.41" y2="249.7" stroke="#333" stroke-width="0.8"/>
<line x1="86.41" y1="169.5" x2="86.41" y2="168.0" stroke="#333" stroke-width="0.8"/>
<line x1="98.03" y1="248.2" x2="98.03" y2="249.7" stroke="#333" stroke-width="0.8"/>
<line x1="98.03" y1="169.5" x2="98.03" y2="168.0" stroke="#333" stroke-width="0.8"/>
<line x1="109.64" y1="248.2" x2="109.64" y2="249.7" stroke="#333" stroke-width="0.8"/>
<line x1="109.64" y1="169.5" x2="109.64" y2="168.0" stroke="#333" stroke-width="0.8"/>
<line x1="121.26" y1="248.2" x2="121.26" y2="250.6" stroke="#333" stroke-width="0.8"/>
<line x1="121.26" y1="169.5" x2="121.26" y2="167.1" stroke="#333" stroke-width="0.8"/>
<line x1="132.88" y1="248.2" x2="132.88" y2="249.7" stroke="#333" stroke-width="0.8"/>
<line x1="132.88" y1="169.5" x2="132.88" y2="168.0" stroke="#333" stroke-width="0.8"/>
<line x1="144.49" y1="248.2" x2="144.49" y2="249.7" stroke="#333" stroke-width="0.8"/>
<line x1="144.49" y1="169.5" x2="144.49" y2="168.0" stroke="#333" stroke-width="0.8"/>
<line x1="156.10" y1="248.2" x2="156.10" y2="249.7" stroke="#333" stroke-width="0.8"/>
<line x1="156.10" y1="169.5" x2="156.10" y2="168.0" stroke="#333" stroke-width="0.8"/>
<line x1="167.72" y1="248.2" x2="167.72" y2="250.6" stroke="#333" stroke-width="0.8"/>
<line x1="167.72" y1="169.5" x2="167.72" y2="167.1" stroke="#333" stroke-width="0.8"/>
<line x1="179.33" y1="248.2" x2="179.33" y2="249.7" stroke="#333" stroke-width="0.8"/>
<line x1="179.33" y1="169.5" x2="179.33" y2="168.0" stroke="#333" stroke-width="0.8"/>
<line x1="190.95" y1="248.2" x2="190.95" y2="249.7" stroke="#333" stroke-width="0.8"/>
<line x1="190.95" y1="169.5" x2="190.95" y2="168.0" stroke="#333" stroke-width="0.8"/>
<line x1="202.56" y1="248.2" x2="202.56" y2="249.7" stroke="#333" stroke-width="0.8"/>
<line x1="202.56" y1="169.5" x2="202.56" y2="168.0" stroke="#333" stroke-width="0.8"/>
<line x1="214.18" y1="248.2" x2="214.18" y2="250.6" stroke="#333" stroke-width="0.8"/>
<line x1="214.18" y1="169.5" x2="214.18" y2="167.1" stroke="#333" stroke-width="0.8"/>
<line x1="225.80" y1="248.2" x2="225.80" y2="249.7" stroke="#333" stroke-width="0.8"/>
<line x1="225.80" y1="169.5" x2="225.80" y2="168.0" stroke="#333" stroke-width="0.8"/>
<line x1="237.41" y1="248.2" x2="237.41" y2="249.7" stroke="#333" stroke-width="0.8"/>
<line x1="237.41" y1="169.5" x2="237.41" y2="168.0" stroke="#333" stroke-width="0.8"/>
<line x1="249.02" y1="248.2" x2="249.02" y2="249.7" stroke="#333" stroke-width="0.8"/>
<line x1="249.02" y1="169.5" x2="249.02" y2="168.0" stroke="#333" stroke-width="0.8"/>
<line x1="260.64" y1="248.2" x2="260.64" y2="250.6" stroke="#333" stroke-width="0.8"/>
<line x1="260.64" y1="169.5" x2="260.64" y2="167.1" stroke="#333" stroke-width="0.8"/>
<line x1="272.25" y1="248.2" x2="272.25" y2="249.7" stroke="#333" stroke-width="0.8"/>
<line x1="272.25" y1="169.5" x2="272.25" y2="168.0" stroke="#333" stroke-width="0.8"/>
<line x1="283.87" y1="248.2" x2="283.87" y2="249.7" stroke="#333" stroke-width="0.8"/>
<line x1="283.87" y1="169.5" x2="283.87" y2="168.0" stroke="#333" stroke-width="0.8"/>
<line x1="295.49" y1="248.2" x2="295.49" y2="249.7" stroke="#333" stroke-width="0.8"/>
<line x1="295.49" y1="169.5" x2="295.49" y2="168.0" stroke="#333" stroke-width="0.8"/>
<line x1="307.10" y1="248.2" x2="307.10" y2="250.6" stroke="#333" stroke-width="0.8"/>
<line x1="307.10" y1="169.5" x2="307.10" y2="167.1" stroke="#333" stroke-width="0.8"/>
<line x1="318.71" y1="248.2" x2="318.71" y2="249.7" stroke="#333" stroke-width="0.8"/>
<line x1="318.71" y1="169.5" x2="318.71" y2="168.0" stroke="#333" stroke-width="0.8"/>
<line x1="330.33" y1="248.2" x2="330.33" y2="249.7" stroke="#333" stroke-width="0.8"/>
<line x1="330.33" y1="169.5" x2="330.33" y2="168.0" stroke="#333" stroke-width="0.8"/>
<line x1="341.94" y1="248.2" x2="341.94" y2="249.7" stroke="#333" stroke-width="0.8"/>
<line x1="341.94" y1="169.5" x2="341.94" y2="168.0" stroke="#333" stroke-width="0.8"/>
<line x1="353.56" y1="248.2" x2="353.56" y2="250.6" stroke="#333" stroke-width="0.8"/>
<line x1="353.56" y1="169.5" x2="353.56" y2="167.1" stroke="#333" stroke-width="0.8"/>
<line x1="365.18" y1="248.2" x2="365.18" y2="249.7" stroke="#333" stroke-width="0.8"/>
<line x1="365.18" y1="169.5" x2="365.18" y2="168.0" stroke="#333" stroke-width="0.8"/>
<line x1="376.79" y1="248.2" x2="376.79" y2="249.7" stroke="#333" stroke-width="0.8"/>
<line x1="376.79" y1="169.5" x2="376.79" y2="168.0" stroke="#333" stroke-width="0.8"/>
<line x1="388.41" y1="248.2" x2="388.41" y2="249.7" stroke="#333" stroke-width="0.8"/>
<line x1="388.41" y1="169.5" x2="388.41" y2="168.0" stroke="#333" stroke-width="0.8"/>
<line x1="400.02" y1="248.2" x2="400.02" y2="250.6" stroke="#333" stroke-width="0.8"/>
<line x1="400.02" y1="169.5" x2="400.02" y2="167.1" stroke="#333" stroke-width="0.8"/>
<line x1="411.63" y1="248.2" x2="411.63" y2="249.7" stroke="#333" stroke-width="0.8"/>
<line x1="411.63" y1="169.5" x2="411.63" y2="168.0" stroke="#333" stroke-width="0.8"/>
<line x1="423.25" y1="248.2" x2="423.25" y2="249.7" stroke="#333" stroke-width="0.8"/>
<line x1="423.25" y1="169.5" x2="423.25" y2="168.0" stroke="#333" stroke-width="0.8"/>
<line x1="434.87" y1="248.2" x2="434.87" y2="249.7" stroke="#333" stroke-width="0.8"/>
<line x1="434.87" y1="169.5" x2="434.87" y2="168.0" stroke="#333" stroke-width="0.8"/>
<text x="74.80" y="259.1" font-size="8" fill="#222" stroke="#222" stroke-width="0.15" text-anchor="middle">0</text>
<text x="121.26" y="259.1" font-size="8" fill="#222" stroke="#222" stroke-width="0.15" text-anchor="middle">20</text>
<text x="167.72" y="259.1" font-size="8" fill="#222" stroke="#222" stroke-width="0.15" text-anchor="middle">40</text>
<text x="214.18" y="259.1" font-size="8" fill="#222" stroke="#222" stroke-width="0.15" text-anchor="middle">60</text>
<text x="260.64" y="259.1" font-size="8" fill="#222" stroke="#222" stroke-width="0.15" text-anchor="middle">80</text>
<text x="307.10" y="259.1" font-size="8" fill="#222" stroke="#222" stroke-width="0.15" text-anchor="middle">100</text>
<text x="353.56" y="259.1" font-size="8" fill="#222" stroke="#222" stroke-width="0.15" text-anchor="middle">120</text>
<text x="400.02" y="259.1" font-size="8" fill="#222" stroke="#222" stroke-width="0.15" text-anchor="middle">140</text>
<text x="93.1" y="187.6" font-size="9" fill="#222" text-anchor="middle">9</text>
<text transform="translate(58.8,223.2) rotate(-90)" font-size="8.6" fill="#222" stroke="#222" stroke-width="0.22" textLength="30.9" lengthAdjust="spacingAndGlyphs">PTCL- NOS</text>
<text transform="translate(445.3,179) rotate(90)" font-size="9.3" fill="#222" stroke="#222" stroke-width="0.1" textLength="62.7" lengthAdjust="spacingAndGlyphs">clonotypes/ml (log10)</text>
<line x1="76" y1="303.6" x2="435.6" y2="303.6" stroke="#c4c4c4" stroke-width="1.1"/>
<line x1="409.6" y1="272.7" x2="409.6" y2="348" stroke="#e2138c" stroke-width="1.6"/>
<polygon points="75.2,347.20000000000005 75.2,288 82.3,319.8 102.9,333.6 108.9,344.8 115.9,347 144.5,337 156.25,323.75 175,328 203.75,313.75 233,320.5 276.25,302 315.5,301.5 351.25,311.25 382.2,323.9 401.1,320 412.2,335.8 412.2,347.20000000000005" fill="#29a3dc"/>
<polyline points="75.2,288 82.3,319.8 102.9,333.6 108.9,344.8 115.9,347 144.5,337 156.25,323.75 175,328 203.75,313.75 233,320.5 276.25,302 315.5,301.5 351.25,311.25 382.2,323.9 401.1,320 412.2,335.8" fill="none" stroke="#1a4f7c" stroke-width="1.1" stroke-linejoin="round"/>
<line x1="75.6" y1="288" x2="75.6" y2="346.6" stroke="#1a4f7c" stroke-width="0.9"/>
<rect x="75" y="346.6" width="28" height="3.4" fill="#fff"/>
<rect x="102.5" y="346.6" width="307" height="3.4" fill="url(#gband2)"/>
<line x1="83.7" y1="272.7" x2="83.7" y2="350.4" stroke="#444" stroke-width="1.3" stroke-dasharray="3.5,1.6"/>
<line x1="115.3" y1="273.7" x2="115.3" y2="339.5" stroke="#aaa" stroke-width="0.8" stroke-dasharray="3.5,2.5"/>
<rect x="409" y="346.9" width="28" height="2.9" fill="#e2138c"/>
<line x1="74.4" y1="272.7" x2="437.5" y2="272.7" stroke="#444" stroke-width="1.1"/>
<line x1="74.55000000000001" y1="271.2" x2="74.55000000000001" y2="353.4" stroke="#222" stroke-width="1.25"/>
<line x1="437.5" y1="272.7" x2="437.5" y2="350.4" stroke="#222" stroke-width="1.2"/>
<line x1="74.4" y1="350.4" x2="437.5" y2="350.4" stroke="#2a2a2a" stroke-width="1.1"/>
<line x1="72.0" y1="345.30" x2="74.4" y2="345.30" stroke="#2a2a2a" stroke-width="0.9"/>
<line x1="437.5" y1="345.30" x2="439.0" y2="345.30" stroke="#333" stroke-width="0.8"/>
<line x1="72.9" y1="341.68" x2="74.4" y2="341.68" stroke="#2a2a2a" stroke-width="0.9"/>
<line x1="437.5" y1="341.68" x2="439.0" y2="341.68" stroke="#333" stroke-width="0.8"/>
<line x1="72.9" y1="338.06" x2="74.4" y2="338.06" stroke="#2a2a2a" stroke-width="0.9"/>
<line x1="437.5" y1="338.06" x2="439.0" y2="338.06" stroke="#333" stroke-width="0.8"/>
<line x1="72.9" y1="334.44" x2="74.4" y2="334.44" stroke="#2a2a2a" stroke-width="0.9"/>
<line x1="437.5" y1="334.44" x2="439.0" y2="334.44" stroke="#333" stroke-width="0.8"/>
<line x1="72.9" y1="330.82" x2="74.4" y2="330.82" stroke="#2a2a2a" stroke-width="0.9"/>
<line x1="437.5" y1="330.82" x2="439.0" y2="330.82" stroke="#333" stroke-width="0.8"/>
<line x1="72.0" y1="327.20" x2="74.4" y2="327.20" stroke="#2a2a2a" stroke-width="0.9"/>
<line x1="437.5" y1="327.20" x2="439.0" y2="327.20" stroke="#333" stroke-width="0.8"/>
<line x1="72.9" y1="323.58" x2="74.4" y2="323.58" stroke="#2a2a2a" stroke-width="0.9"/>
<line x1="437.5" y1="323.58" x2="439.0" y2="323.58" stroke="#333" stroke-width="0.8"/>
<line x1="72.9" y1="319.96" x2="74.4" y2="319.96" stroke="#2a2a2a" stroke-width="0.9"/>
<line x1="437.5" y1="319.96" x2="439.0" y2="319.96" stroke="#333" stroke-width="0.8"/>
<line x1="72.9" y1="316.34" x2="74.4" y2="316.34" stroke="#2a2a2a" stroke-width="0.9"/>
<line x1="437.5" y1="316.34" x2="439.0" y2="316.34" stroke="#333" stroke-width="0.8"/>
<line x1="72.9" y1="312.72" x2="74.4" y2="312.72" stroke="#2a2a2a" stroke-width="0.9"/>
<line x1="437.5" y1="312.72" x2="439.0" y2="312.72" stroke="#333" stroke-width="0.8"/>
<line x1="72.0" y1="309.10" x2="74.4" y2="309.10" stroke="#2a2a2a" stroke-width="0.9"/>
<line x1="437.5" y1="309.10" x2="439.0" y2="309.10" stroke="#333" stroke-width="0.8"/>
<line x1="72.9" y1="305.48" x2="74.4" y2="305.48" stroke="#2a2a2a" stroke-width="0.9"/>
<line x1="437.5" y1="305.48" x2="439.0" y2="305.48" stroke="#333" stroke-width="0.8"/>
<line x1="72.9" y1="301.86" x2="74.4" y2="301.86" stroke="#2a2a2a" stroke-width="0.9"/>
<line x1="437.5" y1="301.86" x2="439.0" y2="301.86" stroke="#333" stroke-width="0.8"/>
<line x1="72.9" y1="298.24" x2="74.4" y2="298.24" stroke="#2a2a2a" stroke-width="0.9"/>
<line x1="437.5" y1="298.24" x2="439.0" y2="298.24" stroke="#333" stroke-width="0.8"/>
<line x1="72.9" y1="294.62" x2="74.4" y2="294.62" stroke="#2a2a2a" stroke-width="0.9"/>
<line x1="437.5" y1="294.62" x2="439.0" y2="294.62" stroke="#333" stroke-width="0.8"/>
<line x1="72.0" y1="291.00" x2="74.4" y2="291.00" stroke="#2a2a2a" stroke-width="0.9"/>
<line x1="437.5" y1="291.00" x2="439.0" y2="291.00" stroke="#333" stroke-width="0.8"/>
<line x1="72.9" y1="287.38" x2="74.4" y2="287.38" stroke="#2a2a2a" stroke-width="0.9"/>
<line x1="437.5" y1="287.38" x2="439.0" y2="287.38" stroke="#333" stroke-width="0.8"/>
<line x1="72.9" y1="283.76" x2="74.4" y2="283.76" stroke="#2a2a2a" stroke-width="0.9"/>
<line x1="437.5" y1="283.76" x2="439.0" y2="283.76" stroke="#333" stroke-width="0.8"/>
<line x1="72.9" y1="280.14" x2="74.4" y2="280.14" stroke="#2a2a2a" stroke-width="0.9"/>
<line x1="437.5" y1="280.14" x2="439.0" y2="280.14" stroke="#333" stroke-width="0.8"/>
<line x1="72.9" y1="276.52" x2="74.4" y2="276.52" stroke="#2a2a2a" stroke-width="0.9"/>
<line x1="437.5" y1="276.52" x2="439.0" y2="276.52" stroke="#333" stroke-width="0.8"/>
<line x1="72.0" y1="272.90" x2="74.4" y2="272.90" stroke="#2a2a2a" stroke-width="0.9"/>
<line x1="437.5" y1="272.90" x2="439.0" y2="272.90" stroke="#333" stroke-width="0.8"/>
<text x="67" y="348.20" font-size="8.2" fill="#222" stroke="#222" stroke-width="0.15" text-anchor="middle">0</text>
<text x="67" y="330.10" font-size="8.2" fill="#222" stroke="#222" stroke-width="0.15" text-anchor="middle">1</text>
<text x="67" y="312.00" font-size="8.2" fill="#222" stroke="#222" stroke-width="0.15" text-anchor="middle">2</text>
<text x="67" y="293.90" font-size="8.2" fill="#222" stroke="#222" stroke-width="0.15" text-anchor="middle">3</text>
<text x="67" y="275.80" font-size="8.2" fill="#222" stroke="#222" stroke-width="0.15" text-anchor="middle">4</text>
<line x1="74.70" y1="350.4" x2="74.70" y2="353.0" stroke="#333" stroke-width="0.8"/>
<line x1="74.70" y1="272.7" x2="74.70" y2="270.3" stroke="#333" stroke-width="0.8"/>
<line x1="84.41" y1="350.4" x2="84.41" y2="351.9" stroke="#333" stroke-width="0.8"/>
<line x1="84.41" y1="272.7" x2="84.41" y2="271.2" stroke="#333" stroke-width="0.8"/>
<line x1="94.12" y1="350.4" x2="94.12" y2="351.9" stroke="#333" stroke-width="0.8"/>
<line x1="94.12" y1="272.7" x2="94.12" y2="271.2" stroke="#333" stroke-width="0.8"/>
<line x1="103.83" y1="350.4" x2="103.83" y2="351.9" stroke="#333" stroke-width="0.8"/>
<line x1="103.83" y1="272.7" x2="103.83" y2="271.2" stroke="#333" stroke-width="0.8"/>
<line x1="113.54" y1="350.4" x2="113.54" y2="351.9" stroke="#333" stroke-width="0.8"/>
<line x1="113.54" y1="272.7" x2="113.54" y2="271.2" stroke="#333" stroke-width="0.8"/>
<line x1="123.25" y1="350.4" x2="123.25" y2="353.0" stroke="#333" stroke-width="0.8"/>
<line x1="123.25" y1="272.7" x2="123.25" y2="270.3" stroke="#333" stroke-width="0.8"/>
<line x1="132.96" y1="350.4" x2="132.96" y2="351.9" stroke="#333" stroke-width="0.8"/>
<line x1="132.96" y1="272.7" x2="132.96" y2="271.2" stroke="#333" stroke-width="0.8"/>
<line x1="142.67" y1="350.4" x2="142.67" y2="351.9" stroke="#333" stroke-width="0.8"/>
<line x1="142.67" y1="272.7" x2="142.67" y2="271.2" stroke="#333" stroke-width="0.8"/>
<line x1="152.38" y1="350.4" x2="152.38" y2="351.9" stroke="#333" stroke-width="0.8"/>
<line x1="152.38" y1="272.7" x2="152.38" y2="271.2" stroke="#333" stroke-width="0.8"/>
<line x1="162.09" y1="350.4" x2="162.09" y2="351.9" stroke="#333" stroke-width="0.8"/>
<line x1="162.09" y1="272.7" x2="162.09" y2="271.2" stroke="#333" stroke-width="0.8"/>
<line x1="171.80" y1="350.4" x2="171.80" y2="353.0" stroke="#333" stroke-width="0.8"/>
<line x1="171.80" y1="272.7" x2="171.80" y2="270.3" stroke="#333" stroke-width="0.8"/>
<line x1="181.51" y1="350.4" x2="181.51" y2="351.9" stroke="#333" stroke-width="0.8"/>
<line x1="181.51" y1="272.7" x2="181.51" y2="271.2" stroke="#333" stroke-width="0.8"/>
<line x1="191.22" y1="350.4" x2="191.22" y2="351.9" stroke="#333" stroke-width="0.8"/>
<line x1="191.22" y1="272.7" x2="191.22" y2="271.2" stroke="#333" stroke-width="0.8"/>
<line x1="200.93" y1="350.4" x2="200.93" y2="351.9" stroke="#333" stroke-width="0.8"/>
<line x1="200.93" y1="272.7" x2="200.93" y2="271.2" stroke="#333" stroke-width="0.8"/>
<line x1="210.64" y1="350.4" x2="210.64" y2="351.9" stroke="#333" stroke-width="0.8"/>
<line x1="210.64" y1="272.7" x2="210.64" y2="271.2" stroke="#333" stroke-width="0.8"/>
<line x1="220.35" y1="350.4" x2="220.35" y2="353.0" stroke="#333" stroke-width="0.8"/>
<line x1="220.35" y1="272.7" x2="220.35" y2="270.3" stroke="#333" stroke-width="0.8"/>
<line x1="230.06" y1="350.4" x2="230.06" y2="351.9" stroke="#333" stroke-width="0.8"/>
<line x1="230.06" y1="272.7" x2="230.06" y2="271.2" stroke="#333" stroke-width="0.8"/>
<line x1="239.77" y1="350.4" x2="239.77" y2="351.9" stroke="#333" stroke-width="0.8"/>
<line x1="239.77" y1="272.7" x2="239.77" y2="271.2" stroke="#333" stroke-width="0.8"/>
<line x1="249.48" y1="350.4" x2="249.48" y2="351.9" stroke="#333" stroke-width="0.8"/>
<line x1="249.48" y1="272.7" x2="249.48" y2="271.2" stroke="#333" stroke-width="0.8"/>
<line x1="259.19" y1="350.4" x2="259.19" y2="351.9" stroke="#333" stroke-width="0.8"/>
<line x1="259.19" y1="272.7" x2="259.19" y2="271.2" stroke="#333" stroke-width="0.8"/>
<line x1="268.90" y1="350.4" x2="268.90" y2="353.0" stroke="#333" stroke-width="0.8"/>
<line x1="268.90" y1="272.7" x2="268.90" y2="270.3" stroke="#333" stroke-width="0.8"/>
<line x1="278.61" y1="350.4" x2="278.61" y2="351.9" stroke="#333" stroke-width="0.8"/>
<line x1="278.61" y1="272.7" x2="278.61" y2="271.2" stroke="#333" stroke-width="0.8"/>
<line x1="288.32" y1="350.4" x2="288.32" y2="351.9" stroke="#333" stroke-width="0.8"/>
<line x1="288.32" y1="272.7" x2="288.32" y2="271.2" stroke="#333" stroke-width="0.8"/>
<line x1="298.03" y1="350.4" x2="298.03" y2="351.9" stroke="#333" stroke-width="0.8"/>
<line x1="298.03" y1="272.7" x2="298.03" y2="271.2" stroke="#333" stroke-width="0.8"/>
<line x1="307.74" y1="350.4" x2="307.74" y2="351.9" stroke="#333" stroke-width="0.8"/>
<line x1="307.74" y1="272.7" x2="307.74" y2="271.2" stroke="#333" stroke-width="0.8"/>
<line x1="317.45" y1="350.4" x2="317.45" y2="353.0" stroke="#333" stroke-width="0.8"/>
<line x1="317.45" y1="272.7" x2="317.45" y2="270.3" stroke="#333" stroke-width="0.8"/>
<line x1="327.16" y1="350.4" x2="327.16" y2="351.9" stroke="#333" stroke-width="0.8"/>
<line x1="327.16" y1="272.7" x2="327.16" y2="271.2" stroke="#333" stroke-width="0.8"/>
<line x1="336.87" y1="350.4" x2="336.87" y2="351.9" stroke="#333" stroke-width="0.8"/>
<line x1="336.87" y1="272.7" x2="336.87" y2="271.2" stroke="#333" stroke-width="0.8"/>
<line x1="346.58" y1="350.4" x2="346.58" y2="351.9" stroke="#333" stroke-width="0.8"/>
<line x1="346.58" y1="272.7" x2="346.58" y2="271.2" stroke="#333" stroke-width="0.8"/>
<line x1="356.29" y1="350.4" x2="356.29" y2="351.9" stroke="#333" stroke-width="0.8"/>
<line x1="356.29" y1="272.7" x2="356.29" y2="271.2" stroke="#333" stroke-width="0.8"/>
<line x1="366.00" y1="350.4" x2="366.00" y2="353.0" stroke="#333" stroke-width="0.8"/>
<line x1="366.00" y1="272.7" x2="366.00" y2="270.3" stroke="#333" stroke-width="0.8"/>
<line x1="375.71" y1="350.4" x2="375.71" y2="351.9" stroke="#333" stroke-width="0.8"/>
<line x1="375.71" y1="272.7" x2="375.71" y2="271.2" stroke="#333" stroke-width="0.8"/>
<line x1="385.42" y1="350.4" x2="385.42" y2="351.9" stroke="#333" stroke-width="0.8"/>
<line x1="385.42" y1="272.7" x2="385.42" y2="271.2" stroke="#333" stroke-width="0.8"/>
<line x1="395.13" y1="350.4" x2="395.13" y2="351.9" stroke="#333" stroke-width="0.8"/>
<line x1="395.13" y1="272.7" x2="395.13" y2="271.2" stroke="#333" stroke-width="0.8"/>
<line x1="404.84" y1="350.4" x2="404.84" y2="351.9" stroke="#333" stroke-width="0.8"/>
<line x1="404.84" y1="272.7" x2="404.84" y2="271.2" stroke="#333" stroke-width="0.8"/>
<line x1="414.55" y1="350.4" x2="414.55" y2="353.0" stroke="#333" stroke-width="0.8"/>
<line x1="414.55" y1="272.7" x2="414.55" y2="270.3" stroke="#333" stroke-width="0.8"/>
<line x1="424.26" y1="350.4" x2="424.26" y2="351.9" stroke="#333" stroke-width="0.8"/>
<line x1="424.26" y1="272.7" x2="424.26" y2="271.2" stroke="#333" stroke-width="0.8"/>
<line x1="433.97" y1="350.4" x2="433.97" y2="351.9" stroke="#333" stroke-width="0.8"/>
<line x1="433.97" y1="272.7" x2="433.97" y2="271.2" stroke="#333" stroke-width="0.8"/>
<text x="74.70" y="362.5" font-size="8" fill="#222" stroke="#222" stroke-width="0.15" text-anchor="middle">0</text>
<text x="123.25" y="362.5" font-size="8" fill="#222" stroke="#222" stroke-width="0.15" text-anchor="middle">5</text>
<text x="171.80" y="362.5" font-size="8" fill="#222" stroke="#222" stroke-width="0.15" text-anchor="middle">10</text>
<text x="220.35" y="362.5" font-size="8" fill="#222" stroke="#222" stroke-width="0.15" text-anchor="middle">15</text>
<text x="268.90" y="362.5" font-size="8" fill="#222" stroke="#222" stroke-width="0.15" text-anchor="middle">20</text>
<text x="317.45" y="362.5" font-size="8" fill="#222" stroke="#222" stroke-width="0.15" text-anchor="middle">25</text>
<text x="366.00" y="362.5" font-size="8" fill="#222" stroke="#222" stroke-width="0.15" text-anchor="middle">30</text>
<text x="414.55" y="362.5" font-size="8" fill="#222" stroke="#222" stroke-width="0.15" text-anchor="middle">35</text>
<text x="94.4" y="294.8" font-size="9.2" fill="#222" text-anchor="middle">198</text>
<text transform="translate(61.2,324.9) rotate(-90)" font-size="8.6" fill="#222" stroke="#222" stroke-width="0.22" textLength="28" lengthAdjust="spacingAndGlyphs">PTCL-TFH</text>
<text transform="translate(444.1,279.5) rotate(90)" font-size="9.3" fill="#222" stroke="#222" stroke-width="0.1" textLength="62.7" lengthAdjust="spacingAndGlyphs">clonotypes/ml (log10)</text>
<rect x="0" y="0" width="520" height="1.1" fill="#1a1a1a"/>
<rect x="0" y="0" width="1.1" height="367" fill="#1a1a1a"/>
<rect x="518.9" y="0" width="1.1" height="367" fill="#1a1a1a"/>
<rect x="0" y="365.6" width="520" height="1.4" fill="#1a1a1a"/>
</svg></body></html>
